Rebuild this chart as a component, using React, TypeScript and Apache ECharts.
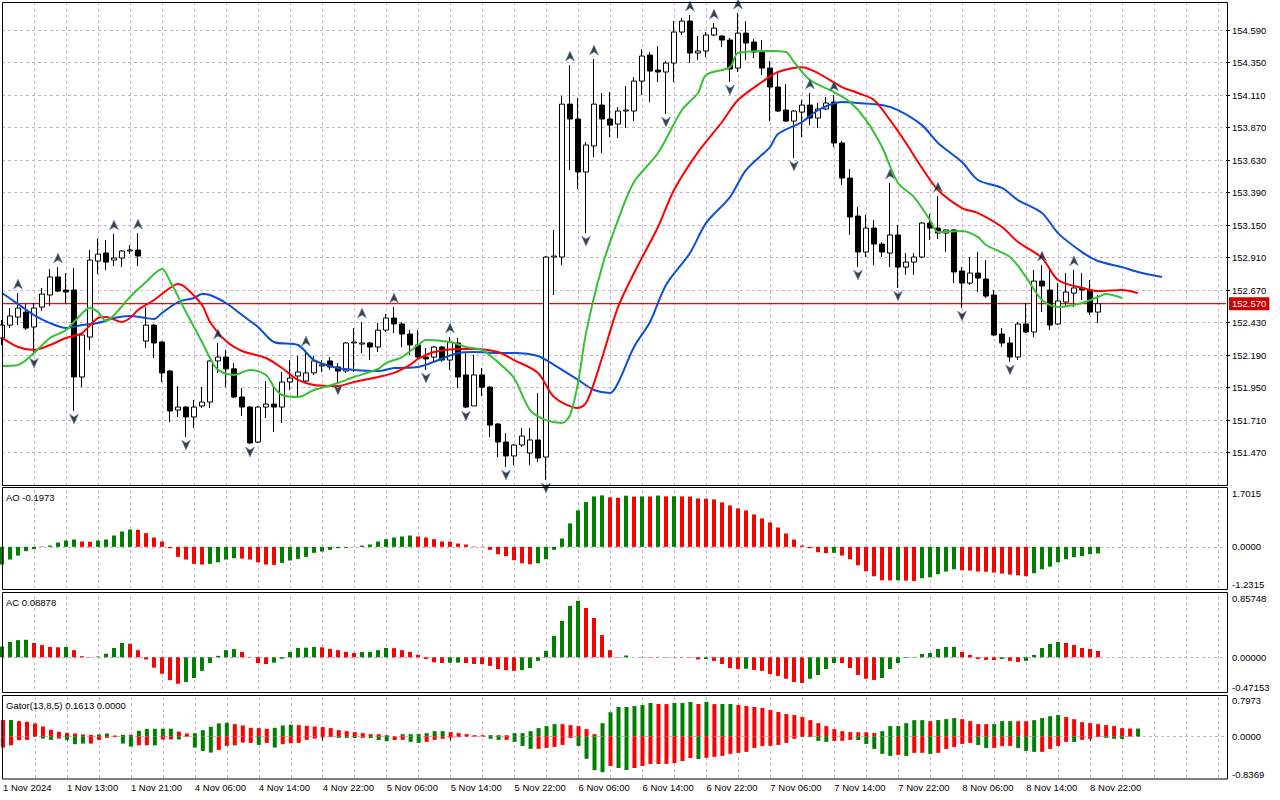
import React, { useEffect, useRef } from "react";
import * as echarts from "echarts";

// ---------- DATA ----------
const xLabels = [
  "1 Nov 2024", "1 Nov 13:00", "1 Nov 21:00", "4 Nov 06:00", "4 Nov 14:00", "4 Nov 22:00",
  "5 Nov 06:00", "5 Nov 14:00", "5 Nov 22:00", "6 Nov 06:00", "6 Nov 14:00", "6 Nov 22:00",
  "7 Nov 06:00", "7 Nov 14:00", "7 Nov 22:00", "8 Nov 06:00", "8 Nov 14:00", "8 Nov 22:00",
];
const SLOTS = 154; // hourly slots visible on the time axis
const priceTickLabels = [
  151.47, 151.71, 151.95, 152.19, 152.43, 152.67, 152.91, 153.15, 153.39, 153.63, 153.87, 154.11, 154.35, 154.59,
];
const lastPrice = 152.57;

const opens = [
  152.317, 152.412, 152.471, 152.508, 152.398, 152.545, 152.634, 152.767, 152.671, 152.671,
  152.029, 152.324, 152.885, 152.944, 152.892, 152.907, 152.959, 152.966, 152.294, 152.412,
  152.287, 152.073, 151.785, 151.807, 151.734, 151.815, 151.844, 152.147, 152.176, 152.089,
  151.881, 151.807, 151.549, 151.807, 151.829, 151.807, 151.992, 152.036, 151.999, 152.059,
  152.110, 152.147, 152.103, 152.073, 152.280, 152.272, 152.280, 152.250, 152.375, 152.464,
  152.420, 152.346, 152.265, 152.176, 152.176, 152.250, 152.154, 152.280, 152.044, 151.815,
  152.044, 151.954, 151.682, 151.549, 151.446, 151.527, 151.468, 151.564, 151.438, 152.914,
  152.914, 154.043, 153.933, 153.542, 153.734, 154.036, 153.933, 153.896, 153.992, 153.992,
  154.213, 154.405, 154.294, 154.280, 154.346, 154.575, 154.656, 154.420, 154.435, 154.553,
  154.545, 154.516, 154.309, 154.567, 154.501, 154.427, 154.309, 154.169, 153.999, 153.918,
  153.984, 154.036, 153.940, 154.007, 154.058, 153.756, 153.497, 153.217, 152.951, 153.128,
  153.010, 152.944, 153.077, 152.840, 152.877, 152.914, 153.165, 153.128, 153.091, 153.114,
  152.811, 152.722, 152.796, 152.752, 152.634, 152.346, 152.280, 152.176, 152.420, 152.361,
  152.737, 152.671, 152.420, 152.582, 152.648, 152.686, 152.671, 152.508,
];
const closes = [
  152.412, 152.479, 152.538, 152.390, 152.538, 152.641, 152.767, 152.663, 152.656, 152.029,
  152.339, 152.892, 152.936, 152.877, 152.907, 152.959, 152.966, 152.922, 152.412, 152.280,
  152.059, 151.778, 151.807, 151.734, 151.807, 151.844, 152.147, 152.176, 152.089, 151.881,
  151.807, 151.542, 151.807, 151.829, 151.807, 151.992, 152.021, 152.066, 152.059, 152.147,
  152.118, 152.103, 152.073, 152.280, 152.287, 152.280, 152.250, 152.375, 152.464, 152.420,
  152.346, 152.265, 152.176, 152.162, 152.250, 152.154, 152.287, 152.029, 151.807, 152.044,
  151.954, 151.674, 151.549, 151.446, 151.527, 151.593, 151.564, 151.431, 152.914, 152.922,
  154.043, 153.933, 153.542, 153.741, 154.043, 153.933, 153.888, 153.992, 153.999, 154.213,
  154.398, 154.287, 154.280, 154.346, 154.575, 154.656, 154.420, 154.435, 154.553, 154.604,
  154.516, 154.302, 154.567, 154.494, 154.427, 154.309, 154.169, 153.992, 153.918, 153.992,
  154.036, 153.940, 154.007, 154.051, 153.756, 153.497, 153.210, 152.951, 153.128, 153.010,
  152.951, 153.077, 152.840, 152.877, 152.914, 153.165, 153.128, 153.091, 153.114, 152.804,
  152.722, 152.796, 152.759, 152.626, 152.339, 152.280, 152.176, 152.420, 152.361, 152.737,
  152.700, 152.412, 152.590, 152.656, 152.686, 152.671, 152.508, 152.570,
];
const lows = [
  152.265, 152.390, 152.412, 152.375, 152.191, 152.516, 152.553, 152.656, 152.575, 151.778,
  151.954, 152.228, 152.789, 152.818, 152.848, 152.840, 152.936, 152.848, 152.243, 152.169,
  151.992, 151.697, 151.734, 151.586, 151.652, 151.800, 151.800, 152.059, 151.954, 151.874,
  151.741, 151.534, 151.542, 151.726, 151.623, 151.689, 151.933, 151.874, 151.984, 152.044,
  152.066, 152.081, 151.992, 152.059, 152.066, 152.206, 152.154, 152.213, 152.361, 152.353,
  152.250, 152.191, 152.154, 152.081, 152.141, 152.141, 152.081, 151.947, 151.800, 151.815,
  151.889, 151.586, 151.438, 151.364, 151.379, 151.512, 151.379, 151.401, 151.269, 152.634,
  152.855, 153.556, 153.416, 153.091, 153.652, 153.682, 153.800, 153.793, 153.866, 153.918,
  154.110, 154.058, 154.206, 153.970, 154.206, 154.553, 154.346, 154.368, 154.390, 154.545,
  154.464, 154.206, 154.280, 154.368, 154.383, 154.258, 153.918, 153.985, 153.911, 153.645,
  153.800, 153.888, 153.866, 153.999, 153.726, 153.446, 153.077, 152.840, 152.914, 152.855,
  152.914, 152.840, 152.686, 152.782, 152.782, 152.907, 153.040, 153.047, 152.951, 152.722,
  152.538, 152.708, 152.656, 152.612, 152.332, 152.250, 152.141, 152.154, 152.353, 152.324,
  152.508, 152.375, 152.412, 152.545, 152.545, 152.597, 152.486, 152.427,
];
const highs = [
  152.449, 152.538, 152.648, 152.567, 152.575, 152.686, 152.826, 152.840, 152.796, 152.833,
  152.346, 152.966, 153.050, 153.040, 153.085, 152.966, 153.003, 153.091, 152.545, 152.420,
  152.294, 152.081, 151.962, 151.815, 151.859, 151.954, 152.154, 152.280, 152.228, 152.132,
  151.947, 151.815, 151.815, 151.999, 151.954, 152.066, 152.154, 152.184, 152.228, 152.184,
  152.154, 152.176, 152.132, 152.287, 152.390, 152.435, 152.287, 152.427, 152.494, 152.545,
  152.435, 152.375, 152.375, 152.243, 152.257, 152.257, 152.324, 152.317, 152.206, 152.191,
  152.095, 151.962, 151.689, 151.615, 151.534, 151.652, 151.652, 151.911, 152.922, 153.114,
  154.102, 154.331, 154.088, 153.763, 154.376, 154.125, 154.132, 154.021, 154.176, 154.243,
  154.449, 154.427, 154.471, 154.361, 154.656, 154.678, 154.700, 154.545, 154.575, 154.641,
  154.553, 154.531, 154.715, 154.656, 154.523, 154.516, 154.361, 154.272, 154.191, 153.999,
  154.073, 154.125, 154.051, 154.095, 154.110, 153.770, 153.564, 153.283, 153.224, 153.187,
  153.025, 153.461, 153.151, 152.944, 152.944, 153.173, 153.232, 153.365, 153.120, 153.120,
  152.840, 152.914, 152.951, 152.892, 152.671, 152.390, 152.324, 152.435, 152.575, 152.818,
  152.855, 152.818, 152.722, 152.796, 152.820, 152.796, 152.745, 152.634,
];

const fractalUpBars = [2, 7, 14, 17, 27, 38, 45, 49, 56, 71, 74, 86, 89, 92, 101, 104, 111, 117, 130, 134];
const fractalDownBars = [4, 9, 23, 31, 42, 53, 58, 63, 68, 73, 83, 91, 99, 107, 112, 120, 126];

// Alligator lines: [bar, price]
const jaw = [
  [0, 152.649], [2, 152.567], [4, 152.486], [6, 152.427], [8, 152.39], [10, 152.412], [12, 152.427], [14, 152.464],
  [16, 152.479], [18, 152.464], [19, 152.457], [20, 152.501], [22, 152.582], [24, 152.612], [25, 152.641], [26, 152.634],
  [28, 152.575], [30, 152.486], [32, 152.398], [34, 152.287], [37, 152.265], [39, 152.154], [42, 152.095], [44, 152.081],
  [47, 152.073], [49, 152.095], [52, 152.103], [54, 152.141], [57, 152.206], [59, 152.213], [62, 152.206], [64, 152.206],
  [67, 152.184], [69, 152.118], [72, 152.007], [74, 151.933], [76, 151.911], [77, 151.984], [79, 152.25], [81, 152.435],
  [83, 152.708], [86, 152.944], [88, 153.165], [91, 153.357], [93, 153.556], [96, 153.726], [97, 153.822], [100, 153.911],
  [102, 153.999], [105, 154.058], [107, 154.051], [110, 154.036], [112, 153.999], [115, 153.888], [117, 153.756],
  [120, 153.615], [122, 153.483], [125, 153.424], [127, 153.335], [130, 153.239], [132, 153.091], [135, 152.951],
  [137, 152.885], [140, 152.84], [142, 152.804], [145, 152.767],
];
const teeth = [
  [0, 152.317], [2, 152.25], [4, 152.228], [6, 152.265], [8, 152.317], [10, 152.353], [12, 152.464], [13, 152.471],
  [15, 152.435], [16, 152.464], [17, 152.523], [19, 152.597], [21, 152.686], [22, 152.715], [23, 152.686], [25, 152.56],
  [26, 152.435], [28, 152.294], [30, 152.221], [33, 152.169], [35, 152.095], [37, 152.007], [39, 151.97], [42, 151.962],
  [44, 151.992], [47, 152.029], [49, 152.059], [51, 152.118], [52, 152.162], [54, 152.213], [57, 152.236], [59, 152.236],
  [62, 152.213], [64, 152.154], [67, 152.059], [69, 151.881], [72, 151.8], [73, 151.837], [74, 151.984], [75, 152.169],
  [77, 152.545], [79, 152.796], [82, 153.136], [84, 153.409], [87, 153.689], [90, 153.911], [92, 154.073], [95, 154.206],
  [97, 154.28], [100, 154.316], [102, 154.272], [105, 154.169], [107, 154.125], [109, 154.073], [111, 153.925],
  [113, 153.756], [115, 153.571], [117, 153.409], [120, 153.276], [122, 153.239], [125, 153.136], [127, 153.025],
  [130, 152.907], [132, 152.745], [135, 152.686], [137, 152.663], [140, 152.671], [142, 152.648],
];
const lips = [
  [0, 152.11], [2, 152.117], [4, 152.206], [6, 152.317], [8, 152.375], [9, 152.435], [11, 152.538], [12, 152.508],
  [13, 152.442], [14, 152.486], [16, 152.619], [18, 152.73], [20, 152.826], [21, 152.737], [23, 152.508], [25, 152.287],
  [26, 152.169], [27, 152.081], [29, 152.044], [31, 152.081], [33, 152.044], [34, 151.955], [35, 151.896], [37, 151.881],
  [39, 151.933], [42, 151.984], [44, 152.029], [47, 152.088], [48, 152.132], [50, 152.176], [52, 152.265], [53, 152.302],
  [56, 152.287], [58, 152.25], [60, 152.228], [62, 152.139], [64, 152.021], [66, 151.785], [68, 151.711], [70, 151.689],
  [71, 151.748], [72, 151.984], [73, 152.353], [75, 152.84], [77, 153.187], [79, 153.468], [82, 153.682], [85, 154.0],
  [87, 154.125], [88, 154.258], [91, 154.316], [92, 154.42], [96, 154.435], [98, 154.427], [99, 154.353], [101, 154.221],
  [104, 154.132], [106, 154.058], [108, 153.925], [110, 153.726], [112, 153.461], [114, 153.357], [116, 153.187],
  [117, 153.099], [120, 153.106], [122, 153.062], [123, 153.003], [126, 152.914], [128, 152.767], [130, 152.597],
  [132, 152.545], [135, 152.575], [137, 152.619], [138, 152.641], [140, 152.612],
];

const ao = [
  -0.53, -0.38, -0.26, -0.13, -0.07, 0.01, 0.04, 0.13, 0.19, 0.22,
  0.16, 0.15, 0.19, 0.22, 0.34, 0.46, 0.52, 0.51, 0.41, 0.28,
  0.16, -0.04, -0.3, -0.38, -0.51, -0.53, -0.51, -0.46, -0.38, -0.34,
  -0.35, -0.38, -0.46, -0.53, -0.54, -0.48, -0.41, -0.36, -0.3, -0.18,
  -0.14, -0.09, -0.04, -0.03, 0.005, 0.04, 0.07, 0.16, 0.23, 0.28,
  0.31, 0.34, 0.31, 0.28, 0.23, 0.16, 0.155, 0.1, 0.07, 0.01,
  -0.01, -0.09, -0.22, -0.28, -0.4, -0.49, -0.52, -0.49, -0.37, -0.09,
  0.25, 0.7, 1.09, 1.34, 1.51, 1.54, 1.48, 1.47, 1.53, 1.5,
  1.51, 1.505, 1.535, 1.51, 1.515, 1.51, 1.505, 1.45, 1.44, 1.42,
  1.33, 1.24, 1.15, 1.09, 0.97, 0.85, 0.73, 0.58, 0.4, 0.22,
  0.04, -0.04, -0.16, -0.19, -0.18, -0.26, -0.37, -0.55, -0.73, -0.88,
  -1.0, -1.005, -1.0, -1.01, -1.02, -0.94, -0.91, -0.82, -0.74, -0.67,
  -0.7, -0.71, -0.74, -0.745, -0.77, -0.8, -0.83, -0.85, -0.88, -0.79,
  -0.67, -0.59, -0.46, -0.37, -0.31, -0.28, -0.22, -0.1973,
];
const ac = [
  0.15, 0.215, 0.24, 0.245, 0.2, 0.17, 0.145, 0.14, 0.145, 0.1,
  0.015, 0.005, 0.01, 0.05, 0.13, 0.2, 0.19, 0.1, -0.03, -0.145,
  -0.23, -0.32, -0.37, -0.345, -0.29, -0.19, -0.08, 0.02, 0.1, 0.115,
  0.075, 0.005, -0.08, -0.095, -0.075, -0.02, 0.075, 0.13, 0.135, 0.145,
  0.14, 0.117, 0.1, 0.075, 0.06, 0.075, 0.076, 0.1, 0.13, 0.128,
  0.1, 0.075, 0.035, -0.025, -0.07, -0.08, -0.076, -0.075, -0.08, -0.093,
  -0.095, -0.12, -0.165, -0.18, -0.19, -0.18, -0.15, -0.05, 0.09, 0.3,
  0.51, 0.72, 0.79, 0.69, 0.55, 0.31, 0.1, -0.005, 0.025, 0.0,
  0.005, -0.005, 0.005, -0.005, -0.003, -0.004, -0.005, -0.03, -0.025, -0.05,
  -0.093, -0.15, -0.163, -0.16, -0.177, -0.19, -0.233, -0.26, -0.3, -0.345,
  -0.36, -0.3, -0.247, -0.163, -0.08, -0.081, -0.15, -0.247, -0.3, -0.317,
  -0.29, -0.163, -0.08, -0.01, 0.005, 0.047, 0.06, 0.117, 0.145, 0.146,
  0.075, 0.033, -0.023, -0.037, -0.038, -0.023, -0.05, -0.065, -0.05, 0.033,
  0.13, 0.187, 0.214, 0.2, 0.172, 0.13, 0.117, 0.0888,
];
const gatorUp = [
  0.331, 0.332, 0.311, 0.297, 0.264, 0.203, 0.135, 0.095, 0.074, 0.061,
  0.041, 0.034, 0.041, 0.061, 0.02, 0.034, 0.033, 0.115, 0.155, 0.156,
  0.157, 0.158, 0.1, 0.06, 0.068, 0.128, 0.196, 0.264, 0.277, 0.25,
  0.223, 0.176, 0.169, 0.155, 0.176, 0.223, 0.237, 0.23, 0.216, 0.2,
  0.19, 0.17, 0.128, 0.108, 0.088, 0.068, 0.047, 0.046, 0.027, 0.003,
  0.047, 0.048, 0.049, 0.068, 0.108, 0.109, 0.088, 0.068, 0.047, 0.027,
  0.026, 0.028, 0.027, 0.026, 0.068, 0.069, 0.108, 0.17, 0.21, 0.25,
  0.249, 0.23, 0.21, 0.15, 0.047, 0.27, 0.49, 0.595, 0.596, 0.615,
  0.635, 0.676, 0.656, 0.655, 0.677, 0.678, 0.696, 0.656, 0.7, 0.654,
  0.656, 0.657, 0.636, 0.615, 0.595, 0.575, 0.534, 0.494, 0.453, 0.433,
  0.392, 0.331, 0.27, 0.21, 0.149, 0.108, 0.088, 0.087, 0.086, 0.068,
  0.108, 0.21, 0.211, 0.27, 0.33, 0.331, 0.31, 0.332, 0.352, 0.372,
  0.351, 0.31, 0.25, 0.249, 0.251, 0.31, 0.311, 0.309, 0.308, 0.33,
  0.372, 0.41, 0.433, 0.392, 0.35, 0.29, 0.27, 0.25, 0.23, 0.21,
  0.17, 0.16, 0.1613,
];
const gatorUpColors =
  "rgrrrrrrrr" + "rrggrgrggg" + "ggrrgggggr" + "rrrrgggrrr" + "rrrrrrrrrr" + "ggggggrrrr" + "rgrrgggggg" +
  "rrrrrggggg" + "ggrrgggrgr" + "ggrrrrrrrr" + "rrrrrrrrrr" + "ggggggrggg" + "rrrrgggrrg" + "gggrrrrrrr" + "rrg";
const gatorDown = [
  -0.223, -0.176, -0.074, -0.068, -0.005, -0.041, -0.068, -0.041, -0.068, -0.155,
  -0.142, -0.142, -0.068, -0.027, -0.014, -0.142, -0.203, -0.176, -0.175, -0.177,
  -0.061, -0.06, -0.061, -0.005, -0.223, -0.291, -0.325, -0.27, -0.189, -0.176,
  -0.122, -0.128, -0.169, -0.128, -0.223, -0.155, -0.135, -0.128, -0.068, -0.041,
  -0.02, -0.013, -0.027, -0.027, -0.03, -0.027, -0.03, -0.07, -0.095, -0.07,
  -0.068, -0.108, -0.128, -0.108, -0.068, -0.047, -0.027, -0.013, -0.005, -0.003,
  -0.002, -0.047, -0.068, -0.067, -0.108, -0.19, -0.25, -0.249, -0.23, -0.21,
  -0.17, -0.03, -0.19, -0.45, -0.68, -0.72, -0.595, -0.635, -0.676, -0.635,
  -0.595, -0.555, -0.554, -0.553, -0.534, -0.494, -0.433, -0.453, -0.43, -0.41,
  -0.39, -0.35, -0.33, -0.31, -0.23, -0.19, -0.188, -0.17, -0.128, -0.047,
  -0.013, -0.014, -0.088, -0.108, -0.088, -0.087, -0.068, -0.07, -0.15, -0.25,
  -0.35, -0.39, -0.37, -0.392, -0.33, -0.329, -0.35, -0.33, -0.25, -0.21,
  -0.15, -0.128, -0.17, -0.23, -0.229, -0.19, -0.189, -0.23, -0.29, -0.31,
  -0.309, -0.25, -0.19, -0.108, -0.109, -0.068, -0.047, -0.013, -0.027, -0.047,
  -0.048, -0.002, 0,
];
const gatorDownColors =
  "rrrrrggrgg" + "grrrrggrrg" + "rrgrgggrrr" + "rrgrgrrrrr" + "rrgggrgggr" + "rggrrrrrrr" + "rggrgggrrr" +
  "rrggggrggr" + "rrrrrrrgrr" + "rrrrrrrrrr" + "ggggrrrggg" + "ggrgrrgrrr" + "rrggrrrggg" + "rrrrgrrrgg" + "grr";

// ---------- STYLE ----------
const FONT = "'Liberation Sans', Arial, sans-serif";
const FS = 9.5;
const GRID_C = "#c8b4c8";
const GREEN = "#008000";
const RED = "#ff0000";
const LEFT = 2;
const PLOT_W = 8 * (SLOTS - 1);

const cats = Array.from({ length: SLOTS }, (_, i) => "h" + i);

function xAxisFor(gridIndex: number, showLabels: boolean) {
  return {
    type: "category",
    gridIndex,
    data: cats,
    boundaryGap: false,
    axisLine: { show: false },
    axisTick: {
      show: showLabels,
      interval: (i: number) => i % 8 === 0 && i / 8 < xLabels.length,
      length: 4,
      lineStyle: { color: "#000" },
    },
    axisLabel: {
      show: showLabels,
      interval: (i: number) => i % 8 === 0 && i / 8 < xLabels.length,
      formatter: (_v: string, i: number) => xLabels[i / 8] ?? "",
      align: "left",
      margin: 4,
      color: "#000",
      fontSize: FS,
      fontFamily: FONT,
    },
    splitLine: {
      show: true,
      interval: (i: number) => i % 4 === 0 && i > 0,
      lineStyle: { color: GRID_C, type: [3, 3], width: 1 },
    },
  };
}

// padTop / padBottom nudge the max / min labels inward, as the reference does
function subYAxis(gridIndex: number, min: number, max: number, digits: number, padTop: number, padBottom: number) {
  return {
    type: "value",
    gridIndex,
    position: "right",
    min,
    max,
    axisLine: { show: false },
    axisTick: { show: false, customValues: [0] },
    axisLabel: {
      customValues: [min, 0, max],
      formatter: (v: number) => {
        const s = v.toFixed(digits);
        if (v === max) return "{hi|" + s + "}";
        if (v === min) return "{lo|" + s + "}";
        return "{mid|" + s + "}";
      },
      margin: 6,
      color: "#000",
      fontSize: FS,
      fontFamily: FONT,
      rich: {
        hi: { padding: [padTop, 0, 0, 0], fontSize: FS, fontFamily: FONT, color: "#000" },
        lo: { padding: [0, 0, padBottom, 0], fontSize: FS, fontFamily: FONT, color: "#000" },
        mid: { fontSize: FS, fontFamily: FONT, color: "#000" },
      },
    },
    splitLine: {
      show: true,
      lineStyle: { color: GRID_C, type: [3, 3], width: 1 },
    },
  };
}

const upDownColor = (arr: number[]) =>
  arr.map((v, i) => ({ value: v, itemStyle: { color: i === 0 || v > arr[i - 1] ? GREEN : RED } }));

const option: any = {
  animation: false,
  backgroundColor: "#ffffff",
  grid: [
    { left: LEFT, top: 2.5, width: PLOT_W, height: 483 },
    { left: LEFT, top: 490, width: PLOT_W, height: 98 },
    { left: LEFT, top: 596, width: PLOT_W, height: 95 },
    { left: LEFT, top: 697, width: PLOT_W, height: 81 },
  ],
  xAxis: [xAxisFor(0, false), xAxisFor(1, false), xAxisFor(2, false), xAxisFor(3, true)],
  yAxis: [
    {
      type: "value",
      gridIndex: 0,
      position: "right",
      min: 151.228,
      max: 154.793,
      axisLine: { show: false },
      axisTick: { show: true, customValues: priceTickLabels, length: 4, lineStyle: { color: "#000" } },
      axisLabel: {
        customValues: priceTickLabels,
        formatter: (v: number) => v.toFixed(3),
        margin: 6,
        color: "#000",
        fontSize: FS,
        fontFamily: FONT,
      },
      splitLine: { show: true, lineStyle: { color: GRID_C, type: [3, 3], width: 1 } },
    },
    subYAxis(1, -1.2315, 1.7015, 4, 6, 7),
    subYAxis(2, -0.47153, 0.85748, 5, 4, 7),
    subYAxis(3, -0.8369, 0.7973, 4, 6, 8),
  ],
  series: [
    {
      // current (bid) price line with its price box on the right
      type: "line",
      xAxisIndex: 0,
      yAxisIndex: 0,
      data: [[0, lastPrice], [SLOTS - 1, lastPrice]],
      showSymbol: false,
      silent: true,
      lineStyle: { color: "#ff0000", width: 1.2, opacity: 1 },
      itemStyle: { color: "#ff0000" },
      z: 2,
      endLabel: {
        show: true,
        formatter: lastPrice.toFixed(3),
        distance: 3,
        color: "#ffffff",
        backgroundColor: "#d00000",
        padding: [2, 3, 1, 3],
        fontSize: FS,
        fontFamily: FONT,
      },
    },
    {
      type: "candlestick",
      xAxisIndex: 0,
      yAxisIndex: 0,
      barWidth: 5,
      data: opens.map((o, i) => [o, closes[i], lows[i], highs[i]]),
      itemStyle: { color: "#ffffff", color0: "#000000", borderColor: "#000000", borderColor0: "#000000", borderWidth: 1 },
    },
    {
      type: "line", xAxisIndex: 0, yAxisIndex: 0, data: jaw, showSymbol: false, smooth: 0.3,
      lineStyle: { color: "#0b4fd6", width: 2 }, z: 3,
    },
    {
      type: "line", xAxisIndex: 0, yAxisIndex: 0, data: teeth, showSymbol: false, smooth: 0.3,
      lineStyle: { color: "#ff0000", width: 2 }, z: 3,
    },
    {
      type: "line", xAxisIndex: 0, yAxisIndex: 0, data: lips, showSymbol: false, smooth: 0.3,
      lineStyle: { color: "#33c233", width: 2 }, z: 3,
    },
    {
      type: "scatter", xAxisIndex: 0, yAxisIndex: 0,
      data: fractalUpBars.map((k) => [k, highs[k]]),
      symbol: "path://M5,0 L10,10 L5,7 L0,10 Z",
      symbolSize: [9, 10],
      symbolOffset: [0, -9],
      itemStyle: { color: "#111111", borderColor: "#5a8fd8", borderWidth: 0.6 },
      z: 4,
    },
    {
      type: "scatter", xAxisIndex: 0, yAxisIndex: 0,
      data: fractalDownBars.map((k) => [k, lows[k]]),
      symbol: "path://M0,0 L5,3 L10,0 L5,10 Z",
      symbolSize: [9, 10],
      symbolOffset: [0, 8],
      itemStyle: { color: "#111111", borderColor: "#5a8fd8", borderWidth: 0.6 },
      z: 4,
    },
    { type: "bar", xAxisIndex: 1, yAxisIndex: 1, barWidth: 4, data: upDownColor(ao) },
    { type: "bar", xAxisIndex: 2, yAxisIndex: 2, barWidth: 4, data: upDownColor(ac) },
    {
      type: "bar", xAxisIndex: 3, yAxisIndex: 3, barWidth: 4, barGap: "-100%",
      data: gatorUp.map((v, i) => ({ value: v, itemStyle: { color: gatorUpColors[i] === "g" ? GREEN : RED } })),
    },
    {
      type: "bar", xAxisIndex: 3, yAxisIndex: 3, barWidth: 4, barGap: "-100%",
      data: gatorDown.map((v, i) => ({ value: v, itemStyle: { color: gatorDownColors[i] === "g" ? GREEN : RED } })),
    },
  ],
  graphic: [
    { type: "rect", silent: true, z: 100, shape: { x: 2.5, y: 2.5, width: 1225, height: 483 }, style: { fill: "none", stroke: "#000", lineWidth: 1 } },
    { type: "rect", silent: true, z: 100, shape: { x: 2.5, y: 487.5, width: 1225, height: 102 }, style: { fill: "none", stroke: "#000", lineWidth: 1 } },
    { type: "rect", silent: true, z: 100, shape: { x: 2.5, y: 592.5, width: 1225, height: 100 }, style: { fill: "none", stroke: "#000", lineWidth: 1 } },
    { type: "rect", silent: true, z: 100, shape: { x: 2.5, y: 695.5, width: 1225, height: 83.5 }, style: { fill: "none", stroke: "#000", lineWidth: 1 } },
    { type: "text", silent: true, z: 100, x: 6, y: 497, style: { text: "AO -0.1973", fill: "#000", fontSize: FS, fontFamily: FONT, verticalAlign: "middle", align: "left" } },
    { type: "text", silent: true, z: 100, x: 6, y: 602, style: { text: "AC 0.08878", fill: "#000", fontSize: FS, fontFamily: FONT, verticalAlign: "middle", align: "left" } },
    { type: "text", silent: true, z: 100, x: 6, y: 705, style: { text: "Gator(13,8,5) 0.1613 0.0000", fill: "#000", fontSize: FS, fontFamily: FONT, verticalAlign: "middle", align: "left" } },
  ],
};

export default function App() {
  const ref = useRef<HTMLDivElement>(null);
  useEffect(() => {
    const chart = echarts.init(ref.current!, null, { renderer: "svg" });
    chart.setOption(option);
    return () => chart.dispose();
  }, []);
  return (
    <div
      ref={ref}
      style={{ position: "absolute", left: 0, top: 0, width: 1280, height: 800, background: "#fff" }}
    />
  );
}
